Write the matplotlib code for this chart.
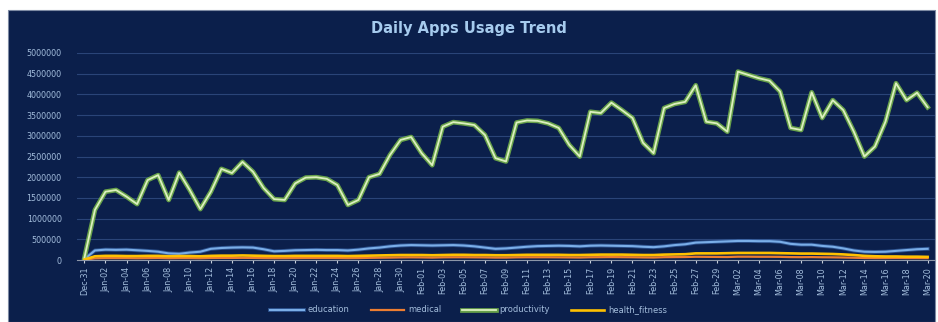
import matplotlib.pyplot as plt
import matplotlib.patheffects as pe
from matplotlib.patches import Rectangle
import numpy as np
import datetime as dt

# daily values, Dec-31 .. Mar-20 (81 days)
productivity = [50000, 1210000, 1650000, 1690000, 1530000, 1350000, 1930000, 2050000, 1450000, 2110000,
                1690000, 1230000, 1650000, 2200000, 2100000, 2370000, 2130000, 1740000, 1470000, 1450000,
                1850000, 1990000, 2000000, 1960000, 1810000, 1330000, 1450000, 2000000, 2080000, 2540000,
                2900000, 2970000, 2580000, 2290000, 3220000, 3330000, 3300000, 3260000, 3020000, 2460000,
                2380000, 3320000, 3370000, 3360000, 3300000, 3190000, 2780000, 2500000, 3580000, 3550000,
                3800000, 3620000, 3430000, 2830000, 2580000, 3670000, 3770000, 3820000, 4220000, 3340000,
                3300000, 3100000, 4550000, 4470000, 4390000, 4330000, 4070000, 3190000, 3140000, 4050000,
                3430000, 3860000, 3620000, 3100000, 2500000, 2740000, 3340000, 4270000, 3860000, 4040000,
                3690000]

education = [20000, 230000, 250000, 245000, 250000, 235000, 220000, 200000, 160000, 150000,
             180000, 200000, 270000, 290000, 300000, 305000, 300000, 260000, 210000, 220000,
             235000, 240000, 245000, 240000, 240000, 230000, 250000, 280000, 300000, 330000,
             350000, 360000, 355000, 350000, 355000, 360000, 350000, 330000, 300000, 270000,
             280000, 300000, 320000, 335000, 340000, 345000, 340000, 330000, 345000, 350000,
             345000, 340000, 335000, 320000, 310000, 330000, 360000, 380000, 420000, 430000,
             440000, 450000, 460000, 460000, 455000, 455000, 440000, 390000, 370000, 370000,
             340000, 320000, 280000, 230000, 200000, 195000, 200000, 220000, 240000, 260000,
             270000]

medical = [5000, 40000, 45000, 45000, 45000, 42000, 45000, 48000, 42000, 45000,
           45000, 42000, 48000, 50000, 50000, 52000, 50000, 46000, 44000, 44000,
           46000, 48000, 48000, 48000, 47000, 44000, 46000, 52000, 55000, 58000,
           62000, 64000, 62000, 58000, 64000, 66000, 66000, 64000, 62000, 58000,
           58000, 64000, 66000, 66000, 66000, 64000, 62000, 60000, 66000, 68000,
           70000, 68000, 66000, 62000, 60000, 68000, 70000, 72000, 78000, 76000,
           74000, 72000, 80000, 80000, 78000, 78000, 76000, 70000, 68000, 70000,
           66000, 64000, 60000, 55000, 48000, 46000, 46000, 48000, 46000, 46000,
           45000]

health_fitness = [10000, 90000, 100000, 100000, 95000, 95000, 100000, 100000, 90000, 95000,
                  95000, 90000, 100000, 105000, 105000, 110000, 105000, 100000, 95000, 95000,
                  100000, 100000, 100000, 100000, 100000, 95000, 100000, 105000, 110000, 115000,
                  120000, 120000, 120000, 115000, 120000, 125000, 125000, 120000, 120000, 115000,
                  115000, 120000, 125000, 125000, 125000, 125000, 120000, 120000, 125000, 130000,
                  130000, 130000, 125000, 120000, 120000, 130000, 135000, 140000, 160000, 160000,
                  160000, 165000, 170000, 170000, 170000, 170000, 165000, 160000, 155000, 155000,
                  150000, 145000, 135000, 120000, 100000, 90000, 85000, 85000, 80000, 80000,
                  75000]

start = dt.date(2019, 12, 31)
dates = [start + dt.timedelta(days=i) for i in range(len(productivity))]
labels = [d.strftime('%b-%d') for d in dates]

bg = '#0b1f4b'
txt = '#a3bddc'

fig = plt.figure(figsize=(9.38, 3.22), dpi=100)
fig.patch.set_facecolor('white')
fig.patches.append(Rectangle((8 / 938, 0), 927 / 938, 1 - 10 / 322, transform=fig.transFigure,
                             facecolor=bg, edgecolor='#7d8aa3', linewidth=0.8, zorder=-10))

ax = fig.add_axes([77 / 938, 1 - 260 / 322, 858 / 938, 207 / 322])
ax.set_facecolor('none')
x = np.arange(len(productivity))

ax.plot(x, education, color='#7aaee8', linewidth=1.5, label='education',
        path_effects=[pe.Stroke(linewidth=2.8, foreground='#3f6fb5', alpha=0.6), pe.Normal()])
ax.plot(x, medical, color='#ed7d31', linewidth=1.6, label='medical')
ax.plot(x, productivity, color='#dcf0c0', linewidth=1.3, label='productivity',
        path_effects=[pe.Stroke(linewidth=3.4, foreground='#78b84a', alpha=0.85), pe.Normal()])
ax.plot(x, health_fitness, color='#ffc000', linewidth=1.9, label='health_fitness')

ax.set_ylim(0, 5000000)
ax.set_xlim(-0.7, 80.7)
ax.set_yticks(np.arange(0, 5000001, 500000))
ax.set_yticklabels([str(v) for v in range(0, 5000001, 500000)])
ax.set_xticks(x[::2])
ax.set_xticklabels(labels[::2], rotation=90)
ax.tick_params(axis='y', length=0, labelsize=5.8, labelcolor=txt, pad=11)
ax.tick_params(axis='x', length=2, color='#c8d0dc', labelsize=5.8, labelcolor=txt, pad=3)
ax.grid(axis='y', color='#2a4478', linewidth=0.8)
ax.set_axisbelow(True)
for s in ['top', 'right', 'left']:
    ax.spines[s].set_visible(False)
ax.spines['bottom'].set_color('#8c96a8')
ax.spines['bottom'].set_linewidth(0.8)

fig.text(0.5, 1 - 28 / 322, 'Daily Apps Usage Trend', ha='center', va='center',
         fontsize=10.5, fontweight='bold', color='#a6cbee')

leg = fig.legend(loc='center', bbox_to_anchor=(0.5, 1 - 310 / 322), ncol=4, frameon=False,
                 fontsize=6, handlelength=4, columnspacing=2.5, handletextpad=0.5)
for t in leg.get_texts():
    t.set_color(txt)

fig.savefig('out.png', dpi=100, facecolor=fig.get_facecolor())
